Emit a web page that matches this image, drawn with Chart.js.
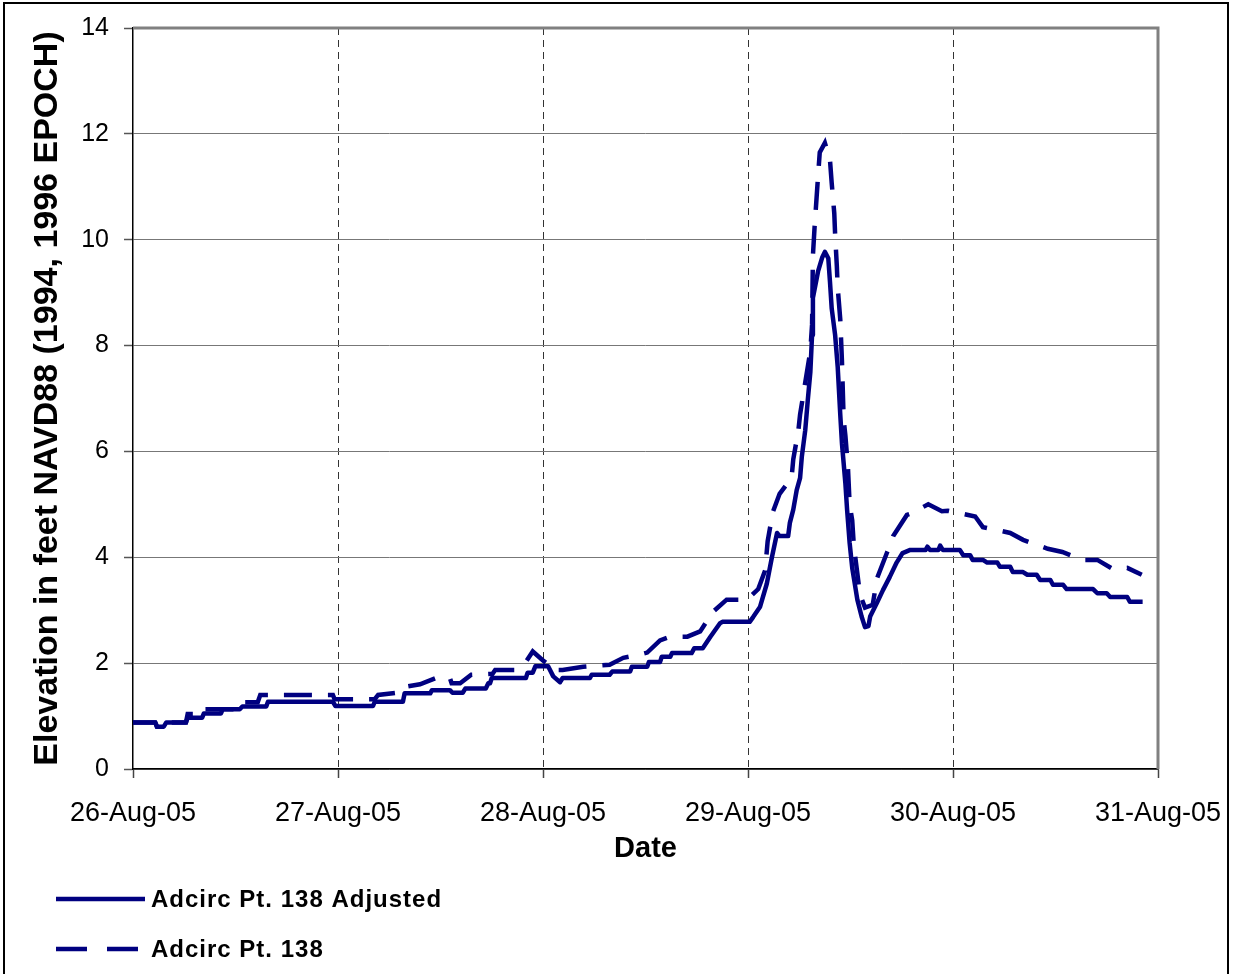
<!DOCTYPE html>
<html>
<head>
<meta charset="utf-8">
<script src="https://cdn.jsdelivr.net/npm/chart.js@4/dist/chart.umd.min.js"></script>
<style>
html, body { margin: 0; padding: 0; background: #fff; overflow: hidden; }
#wrap { position: relative; width: 1235px; height: 974px; overflow: hidden; }
#frame { position: absolute; left: 3px; top: 2px; width: 1222px; height: 1000px; border: 2px solid #000; pointer-events: none; }
canvas { position: absolute; left: 0; top: 0; }
</style>
</head>
<body>
<div id="wrap">
  <canvas id="chart" width="1235" height="974"></canvas>
  <div id="frame"></div>
</div>
<script>
// tick labels, one per day (x is hours from 26-Aug-05 00:00)
var dateLabels = ['26-Aug-05', '27-Aug-05', '28-Aug-05', '29-Aug-05', '30-Aug-05', '31-Aug-05'];
var seriesNames = ['Adcirc Pt. 138 Adjusted', 'Adcirc Pt. 138'];

// Adcirc Pt. 138 Adjusted
var adjHours = [0, 2.6, 2.8, 3.6, 3.9, 6.2, 6.4, 8.1, 8.3, 10.3, 10.5, 12.5, 12.8, 15.6, 15.8, 23.4, 23.7, 28.1, 28.3, 31.6,
  31.8, 34.8, 35.0, 37.1, 37.4, 38.6, 38.9, 41.3, 41.6, 41.8, 42.0, 46.0, 46.2, 46.8, 47.1, 48.6, 49.2, 50.0, 50.3, 53.5,
  53.7, 55.8, 56.1, 58.2, 58.4, 60.2, 60.4, 61.7, 61.9, 62.9, 63.1, 65.4, 65.7, 66.7, 67.6, 68.7, 69.0, 72.2, 72.6, 73.4,
  74.2, 74.8, 75.4, 75.7, 76.7, 76.9, 77.3, 77.7, 78.1, 78.3, 78.7, 79.0, 79.3, 79.5, 79.6, 80.2, 80.7, 81.0, 81.4, 81.6,
  81.8, 82.2, 82.5, 82.8, 83.0, 83.4, 83.6, 83.9, 84.2, 84.5, 84.8, 85.3, 85.7, 86.1, 86.3, 87.1, 87.8, 88.6, 89.4, 90.1,
  91.0, 92.8, 93.0, 93.3, 94.3, 94.5, 94.8, 96.8, 97.2, 98.0, 98.3, 99.5, 100.0, 101.2, 101.5, 102.7, 103.0, 104.2, 104.7, 105.8,
  106.2, 107.4, 107.7, 108.9, 109.3, 112.4, 112.9, 114.0, 114.4, 116.4, 116.7, 118.2];
var adjValues = [0.88, 0.88, 0.80, 0.80, 0.88, 0.88, 0.97, 0.97, 1.05, 1.05, 1.13, 1.13, 1.18, 1.18, 1.27, 1.27, 1.19, 1.19, 1.27, 1.27,
  1.43, 1.43, 1.49, 1.49, 1.44, 1.44, 1.52, 1.52, 1.62, 1.62, 1.72, 1.72, 1.82, 1.82, 1.94, 1.94, 1.75, 1.64, 1.72, 1.72,
  1.78, 1.78, 1.84, 1.84, 1.93, 1.93, 2.02, 2.02, 2.12, 2.12, 2.19, 2.19, 2.28, 2.28, 2.50, 2.75, 2.78, 2.78, 2.87, 3.06,
  3.50, 4.00, 4.46, 4.40, 4.40, 4.65, 4.90, 5.27, 5.50, 5.90, 6.40, 6.97, 7.50, 8.20, 8.90, 9.40, 9.67, 9.77, 9.65, 9.20,
  8.70, 8.20, 7.60, 6.70, 6.15, 5.40, 4.90, 4.27, 3.80, 3.50, 3.20, 2.88, 2.68, 2.70, 2.88, 3.14, 3.38, 3.63, 3.90, 4.08,
  4.14, 4.14, 4.20, 4.14, 4.14, 4.22, 4.14, 4.14, 4.04, 4.04, 3.95, 3.95, 3.90, 3.90, 3.82, 3.82, 3.72, 3.72, 3.67, 3.67,
  3.57, 3.57, 3.48, 3.48, 3.40, 3.40, 3.32, 3.32, 3.25, 3.25, 3.16, 3.16];

// Adcirc Pt. 138
var rawHours = [0, 2.6, 2.8, 3.6, 3.9, 6.2, 6.4, 8.2, 8.4, 12.5, 12.9, 14.6, 14.9, 23.4, 23.6, 28.3, 28.7, 31.3, 31.8, 33.6,
  35.5, 37.1, 37.3, 38.3, 39.6, 42.1, 42.4, 44.7, 45.9, 46.8, 48.0, 48.8, 49.2, 50.3, 52.7, 55.8, 57.4, 59.0, 60.2, 61.7,
  62.9, 64.9, 66.4, 67.9, 69.5, 71.9, 73.2, 74.0, 74.3, 74.9, 75.7, 77.1, 77.3, 77.9, 78.1, 79.3, 79.5, 79.6, 79.8, 80.2,
  80.4, 81.0, 81.6, 81.8, 82.1, 82.2, 82.4, 82.5, 82.8, 83.0, 83.2, 83.4, 83.7, 83.9, 84.2, 84.4, 84.8, 85.1, 85.7, 86.6,
  87.1, 88.3, 89.0, 90.6, 91.5, 92.5, 93.1, 94.7, 95.4, 98.6, 99.5, 102.7, 104.2, 107.1, 108.8, 111.2, 112.9, 114.7, 116.4, 118.1];
var rawValues = [0.88, 0.88, 0.80, 0.80, 0.88, 0.88, 1.04, 1.04, 1.13, 1.13, 1.26, 1.26, 1.40, 1.40, 1.32, 1.32, 1.40, 1.45, 1.55, 1.60,
  1.72, 1.72, 1.62, 1.62, 1.78, 1.80, 1.87, 1.87, 2.00, 2.22, 2.05, 1.95, 1.87, 1.87, 1.93, 1.97, 2.10, 2.15, 2.20, 2.43,
  2.50, 2.50, 2.60, 2.97, 3.20, 3.20, 3.40, 3.75, 4.30, 4.85, 5.20, 5.50, 5.85, 6.40, 6.70, 7.90, 8.40, 9.70, 10.25, 11.20,
  11.65, 11.83, 11.50, 11.07, 10.50, 10.10, 9.50, 9.10, 8.50, 7.70, 6.60, 6.30, 5.70, 5.00, 4.70, 4.20, 3.70, 3.30, 3.05, 3.10,
  3.60, 4.10, 4.40, 4.80, 4.85, 4.95, 5.00, 4.87, 4.88, 4.77, 4.57, 4.46, 4.33, 4.16, 4.10, 3.95, 3.95, 3.78, 3.80, 3.67];

function toPoints(xs, ys) {
    return xs.map(function(x, i) { return {x: x, y: ys[i]}; });
}

var FONT = "'Liberation Sans', Arial, sans-serif";
var NAVY = '#000080';

// gray frame on top/right of the plot plus the legend down in the corner
var framePlugin = {
    id: 'plotFrame',
    afterDraw: function(chart) {
        var a = chart.chartArea;
        var ctx = chart.ctx;
        ctx.save();
        ctx.strokeStyle = '#808080';
        ctx.lineWidth = 3;
        ctx.beginPath();
        ctx.moveTo(a.left, a.top);
        ctx.lineTo(a.right, a.top);
        ctx.lineTo(a.right, a.bottom);
        ctx.stroke();

        chart.data.datasets.forEach(function(ds, i) {
            var y = 899 + i * 50;
            ctx.strokeStyle = ds.borderColor;
            ctx.lineWidth = 4.5;
            ctx.lineCap = 'butt';
            ctx.setLineDash(i == 1 ? [31, 20] : []);
            ctx.beginPath();
            ctx.moveTo(56, y);
            ctx.lineTo(145, y);
            ctx.stroke();
            ctx.setLineDash([]);
            ctx.fillStyle = '#000';
            ctx.font = 'bold 24px ' + FONT;
            ctx.letterSpacing = '1px';
            ctx.textBaseline = 'middle';
            ctx.fillText(ds.label, 151, y + 1);
        });
        ctx.restore();
    }
};

var ctx = document.getElementById('chart');
var myChart = new Chart(ctx, {
    type: 'line',
    data: {
        datasets: [{
            label: seriesNames[0],
            data: toPoints(adjHours, adjValues),
            borderColor: NAVY,
            borderWidth: 4.5,
            pointRadius: 0,
            tension: 0,
            borderJoinStyle: 'round'
        }, {
            label: seriesNames[1],
            data: toPoints(rawHours, rawValues),
            borderColor: NAVY,
            borderWidth: 4.5,
            borderDash: [28, 16],
            pointRadius: 0,
            tension: 0
        }]
    },
    options: {
        responsive: false,
        animation: false,
        layout: { padding: { left: 0, right: 77, top: 28, bottom: 105 } },
        plugins: {
            legend: { display: false },
            tooltip: { enabled: false }
        },
        scales: {
            x: {
                type: 'linear',
                min: 0,
                max: 120,
                afterFit: function(s) {
                    s.height = 100;
                    s.paddingLeft = 0;
                    s.paddingRight = 0;
                },
                ticks: {
                    stepSize: 24,
                    autoSkip: false,
                    maxRotation: 0,
                    padding: 19,
                    color: '#000',
                    font: { family: FONT, size: 27 },
                    callback: function(v) { return dateLabels[Math.round(v / 24)]; }
                },
                grid: {
                    color: function(c) { return (c.index == 0 || c.index == 5) ? 'rgba(0,0,0,0)' : '#333'; },
                    lineWidth: 1,
                    tickLength: 9,
                    tickColor: '#444',
                    tickWidth: 1.5
                },
                border: { color: '#000', width: 1.5, dash: [7, 5] },
                title: {
                    display: true,
                    text: 'Date',
                    color: '#000',
                    font: { family: FONT, size: 29, weight: 'bold' },
                    padding: { top: 0, bottom: 3 }
                }
            },
            y: {
                min: 0,
                max: 14,
                afterFit: function(s) {
                    s.width = 133;
                    s.paddingTop = 0;
                    s.paddingBottom = 0;
                },
                ticks: {
                    stepSize: 2,
                    padding: 15,
                    color: '#000',
                    font: { family: FONT, size: 25 }
                },
                grid: {
                    color: function(c) { return c.index == 7 ? 'rgba(0,0,0,0)' : '#777'; },
                    lineWidth: 1,
                    tickLength: 9,
                    tickColor: '#555',
                    tickWidth: 1.5
                },
                border: { color: '#000', width: 1.5 },
                title: {
                    display: true,
                    text: 'Elevation in feet NAVD88 (1994, 1996 EPOCH)',
                    color: '#000',
                    font: { family: FONT, size: 34, weight: 'bold' },
                    padding: { top: 27, bottom: 0 }
                }
            }
        }
    },
    plugins: [framePlugin]
});
</script>
</body>
</html>
